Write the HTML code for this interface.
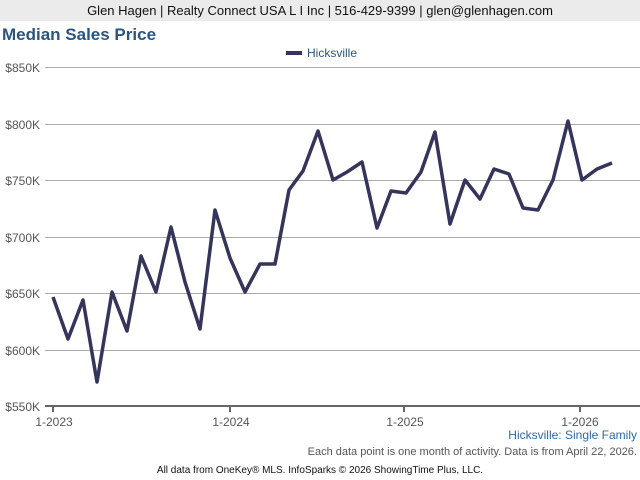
<!DOCTYPE html>
<html><head><meta charset="utf-8"><style>
body{margin:0;width:640px;height:480px;background:#fff;font-family:"Liberation Sans",Arial,sans-serif;overflow:hidden;position:relative}
.hdr{position:absolute;left:0;top:0;width:640px;height:21px;background:#ebebeb;text-align:center;font-size:13px;line-height:21px;color:#111}
.t{position:absolute;left:2px;top:25px;font-size:17px;font-weight:bold;color:#2b557f}
</style></head><body>
<div class="hdr">Glen Hagen | Realty Connect USA L I Inc | 516-429-9399 | glen@glenhagen.com</div>
<div class="t">Median Sales Price</div>
<svg width="640" height="480" style="position:absolute;left:0;top:0" font-family="Liberation Sans,Arial,sans-serif">
<g stroke="#aaa" stroke-width="1">
<line x1="45" y1="67.5" x2="640" y2="67.5"/><line x1="45" y1="124.5" x2="640" y2="124.5"/><line x1="45" y1="180.5" x2="640" y2="180.5"/><line x1="45" y1="237.5" x2="640" y2="237.5"/><line x1="45" y1="293.5" x2="640" y2="293.5"/><line x1="45" y1="350.5" x2="640" y2="350.5"/>
</g>
<line x1="45" y1="406" x2="640" y2="406" stroke="#666" stroke-width="2"/>
<g stroke="#666" stroke-width="2"><line x1="53" y1="406" x2="53" y2="412"/><line x1="230" y1="406" x2="230" y2="412"/><line x1="404" y1="406" x2="404" y2="412"/><line x1="580" y1="406" x2="580" y2="412"/></g>
<g font-size="12" fill="#555" text-anchor="end">
<text x="40" y="72">$850K</text><text x="40" y="129">$800K</text><text x="40" y="185">$750K</text><text x="40" y="242">$700K</text><text x="40" y="298">$650K</text><text x="40" y="355">$600K</text><text x="40" y="411">$550K</text>
</g>
<g font-size="12" fill="#555" text-anchor="middle">
<text x="54" y="426">1-2023</text><text x="231" y="426">1-2024</text><text x="405" y="426">1-2025</text><text x="580" y="426">1-2026</text>
</g>
<line x1="286" y1="53" x2="302" y2="53" stroke="#35345a" stroke-width="4"/>
<text x="307" y="57" font-size="12" fill="#2b557f">Hicksville</text>
<polyline fill="none" stroke="#35345a" stroke-width="3.5" stroke-linejoin="round" points="53,297 68,339 83,300 97,382 112,292 127,331 141,256 156,292 171,227 185,282 200,329 215,210 230,258 245,292 260,264 275,264 289,190 303,171 318,131 333,180 347,172 362,162 377,228 391,191 406,193 421,172 435,132 450,224 465,180 480,199 494,169 509,174 523,208 538,210 553,180 568,121 582,180 597,169 612,163"/>
<text x="637" y="439" font-size="12" fill="#2b6aa8" text-anchor="end">Hicksville: Single Family</text>
<text x="637" y="455" font-size="11" fill="#555" text-anchor="end">Each data point is one month of activity. Data is from April 22, 2026.</text>
<text x="320" y="473" font-size="10" fill="#111" text-anchor="middle">All data from OneKey® MLS. InfoSparks © 2026 ShowingTime Plus, LLC.</text>
</svg>
</body></html>
